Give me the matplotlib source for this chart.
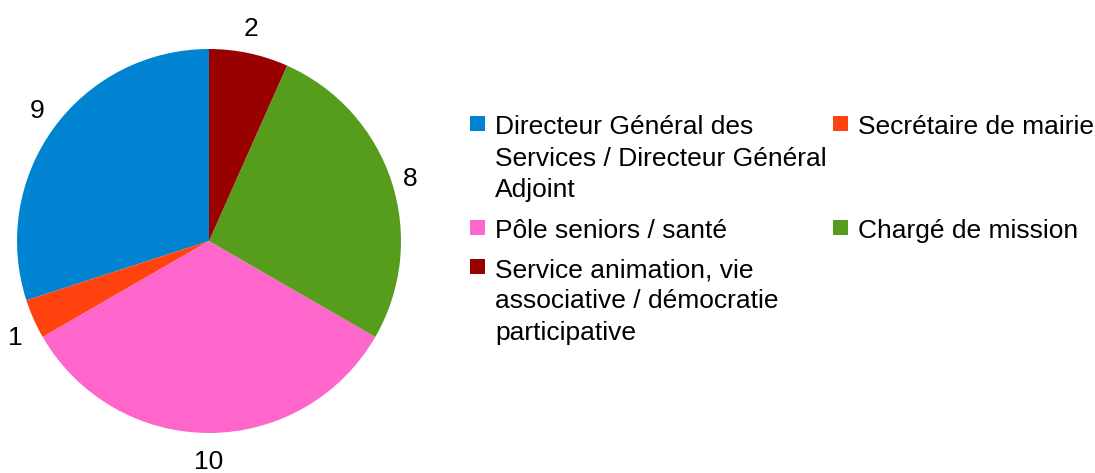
import numpy as np
import matplotlib.pyplot as plt
from matplotlib.patches import Rectangle

plt.rcParams['font.family'] = ['Liberation Sans', 'DejaVu Sans']

# Données du graphique
categories = [
    "Directeur Général des\nServices / Directeur Général\nAdjoint",
    "Secrétaire de mairie",
    "Pôle seniors / santé",
    "Chargé de mission",
    "Service animation, vie\nassociative / démocratie\nparticipative",
]
valeurs = [9, 1, 10, 8, 2]
couleurs = ["#0084d1", "#ff420e", "#ff66cc", "#579d1c", "#990000"]

W, H = 1095, 473
fig = plt.figure(figsize=(W / 100, H / 100), dpi=100)

# Camembert : centre (209, 241) px, rayon 192 px
cx, cy, r = 209, 241, 192
ax = fig.add_axes([(cx - r) / W, (H - cy - r) / H, 2 * r / W, 2 * r / H])
wedges, _ = ax.pie(valeurs, colors=couleurs, startangle=90, counterclock=True,
                   wedgeprops={'linewidth': 0})

# Étiquettes de valeur à l'extérieur, ancrées selon la direction
for w, v in zip(wedges, valeurs):
    ang = np.deg2rad((w.theta1 + w.theta2) / 2)
    c, s = np.cos(ang), np.sin(ang)
    ha = 'center' if abs(c) < 0.25 else ('left' if c > 0 else 'right')
    if abs(s) < 0.35:
        va = 'center_baseline'
    else:
        va = 'baseline' if s > 0 else 'top'
    ax.text(1.06 * c, 1.09 * s, str(v), ha=ha, va=va, fontsize=19)

ax.set_xlim(-1, 1)
ax.set_ylim(-1, 1)
ax.set_aspect('equal')

# Légende sur deux colonnes, dessinée à la main
cols_x = [470, 833]
rows_y = [116, 220, 259]
pos = [(0, 0), (1, 0), (0, 1), (1, 1), (0, 2)]
for (cl, rw), lab, col in zip(pos, categories, couleurs):
    x0 = cols_x[cl]
    y0 = rows_y[rw]
    fig.patches.append(Rectangle((x0 / W, (H - y0 - 15) / H), 15 / W, 15 / H,
                                 transform=fig.transFigure, facecolor=col,
                                 edgecolor='none'))
    for i, ligne in enumerate(lab.split("\n")):
        base = y0 + 18 + i * 31.5
        fig.text((x0 + 25) / W, (H - base) / H, ligne, fontsize=19,
                 ha='left', va='baseline')

fig.savefig("out.png", dpi=100, facecolor='white')
